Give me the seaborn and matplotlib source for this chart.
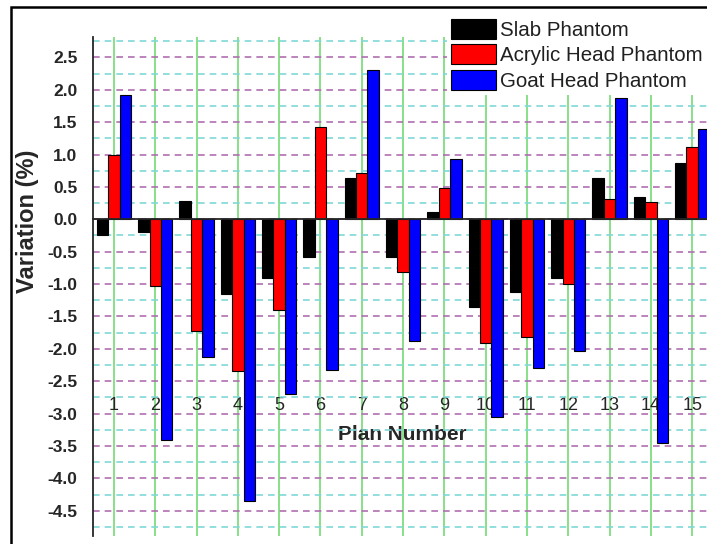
import numpy as np
import pandas as pd
import matplotlib
matplotlib.use("Agg")
import matplotlib.pyplot as plt
import seaborn as sns
from matplotlib.patches import Rectangle
from matplotlib.ticker import MultipleLocator, FixedLocator, FormatStrFormatter

# values
plans = [str(i) for i in range(1, 16)]
phantoms = ["Slab Phantom", "Acrylic Head Phantom", "Goat Head Phantom"]
slab = [-0.24, -0.20, 0.28, -1.15, -0.90, -0.58, 0.63, -0.58, 0.11, -1.36, -1.13, -0.90, 0.64, 0.34, 0.87]
acrylic = [1.00, -1.03, -1.73, -2.35, -1.40, 1.42, 0.72, -0.81, 0.49, -1.91, -1.81, -1.00, 0.31, 0.26, 1.12]
goat = [1.92, -3.41, -2.12, -4.35, -2.70, -2.33, 2.30, -1.88, 0.93, -3.05, -2.29, -2.03, 1.88, -3.45, 1.39]
colors = ["#000000", "#FF0000", "#0000FF"]

df = pd.DataFrame({
    "Plan": plans * 3,
    "Phantom": np.repeat(phantoms, len(plans)),
    "Variation": slab + acrylic + goat,
})

sns.set_style("white")
plt.rcParams["font.family"] = ["Liberation Sans", "DejaVu Sans"]
plt.rcParams["axes.unicode_minus"] = False

fig = plt.figure(figsize=(7.07, 5.44), dpi=100)
ax = fig.add_axes([92.7 / 707, 8 / 544, (707 - 92.7) / 707, (536 - 37.3) / 544])

sns.barplot(data=df, x="Plan", y="Variation", hue="Phantom", hue_order=phantoms,
            palette=colors, saturation=1, width=0.83, errorbar=None,
            edgecolor="black", linewidth=0.8, ax=ax)

ax.set_xlim(-0.516, 14.36)
ax.set_ylim(-4.89, 2.81)

# spines like the Origin plot
ax.spines["top"].set_visible(False)
ax.spines["right"].set_visible(False)
ax.spines["bottom"].set_position(("data", 0))
ax.spines["left"].set_linewidth(1.3)
ax.spines["bottom"].set_linewidth(1.3)

ax.yaxis.set_major_locator(MultipleLocator(0.5))
ax.yaxis.set_minor_locator(MultipleLocator(0.25))
ax.yaxis.set_major_formatter(FormatStrFormatter("%.1f"))
ax.xaxis.set_minor_locator(FixedLocator(np.arange(-0.5, 14.6, 1)))

ax.tick_params(axis="y", which="major", direction="out", length=9, width=1.2,
               labelsize=12.5, pad=2)
ax.tick_params(axis="y", which="minor", direction="out", length=6, width=1.2)
ax.tick_params(axis="x", which="major", direction="out", length=8, width=1.2,
               labelsize=13, pad=120)
ax.tick_params(axis="x", which="minor", direction="out", length=4, width=1.2)
for lab in ax.get_yticklabels():
    lab.set_fontweight("bold")

ax.set_axisbelow(True)
ax.grid(axis="x", which="major", color="#80DD80", lw=1.3, ls="-")
ax.grid(axis="y", which="major", color="#B070B0", lw=1.2, ls=(0, (4, 3)))
ax.grid(axis="y", which="minor", color="#80D8D8", lw=1.2, ls=(0, (4, 3)))

ax.set_ylabel("Variation (%)", fontsize=17, fontweight="bold")
ax.yaxis.set_label_coords(-0.087, 0.631)
ax.set_xlabel("Plan Number", fontsize=15, fontweight="bold")
ax.xaxis.set_label_coords(0.5035, 0.222)

handles, labels = ax.get_legend_handles_labels()
leg = ax.legend(handles, labels, loc="upper left",
                bbox_to_anchor=(447 / 707, 1 - 15 / 544),
                bbox_transform=fig.transFigure, fontsize=14.8,
                frameon=True, facecolor="white", edgecolor="none", framealpha=1,
                fancybox=False, borderpad=0.2, borderaxespad=0,
                handlelength=2.2, handleheight=1.1, handletextpad=0.2,
                labelspacing=0.22)
for t in leg.get_texts():
    t.set_color("#202020")

fig.add_artist(Rectangle((11 / 707, -0.02), 1, 1 - 7 / 544 + 0.02,
                         transform=fig.transFigure, fill=False,
                         lw=1.8, ec="black"))

fig.savefig("out.png", dpi=100)
